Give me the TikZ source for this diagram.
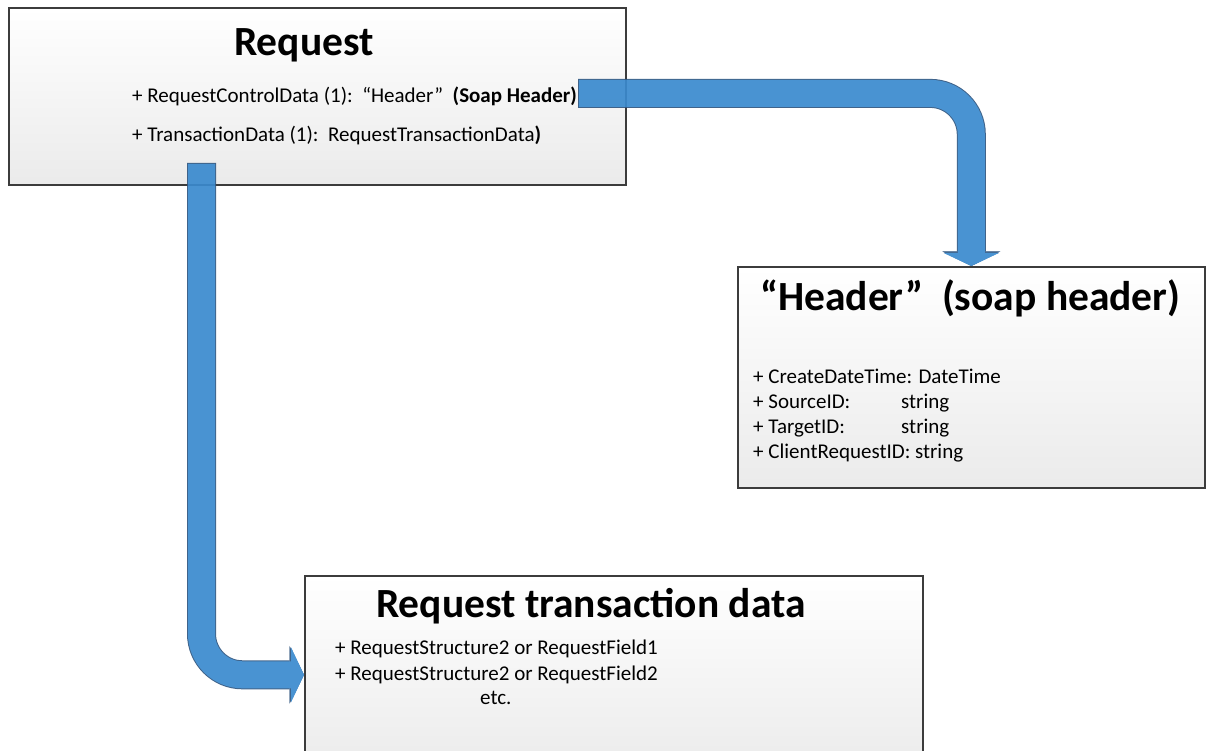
\documentclass[tikz,border=0pt]{standalone}
\usepackage{fontspec}
\setmainfont{Carlito}
\usetikzlibrary{arrows.meta,shadows}

\definecolor{arrowblue}{RGB}{58,138,206}
\definecolor{arrowedge}{RGB}{48,86,128}
\definecolor{boxedge}{RGB}{60,60,60}

\tikzset{
  box/.style={rectangle, draw=boxedge, line width=1.6pt, anchor=north west,
    top color=white, bottom color=black!8,
    drop shadow={shadow xshift=1.5pt, shadow yshift=-1.5pt, opacity=.35, fill=black!60}},
  title/.style={anchor=base west, inner sep=0pt, font=\bfseries\fontsize{41.5}{48}\selectfont},
  item/.style={anchor=base west, inner sep=0pt, font=\fontsize{21}{25}\selectfont},
  blockarrow/.style={draw=arrowblue, line width=27pt, rounded corners=41pt,
    -{Triangle[width=55pt, length=13pt, line width=.4pt]},
    preaction={draw=arrowedge, line width=29pt, shorten <=-1pt,
      -{Triangle[width=58pt, length=14.5pt, line width=.4pt]}}}
}

\begin{document}
\begin{tikzpicture}[x=1pt, y=-1pt]
  \useasboundingbox (0,0) rectangle (1210,751);
  \clip (0,0) rectangle (1210,751);

  % Boxes
  \node[box, minimum width=617pt, minimum height=177pt] (request) at (8,7) {};
  \node[box, minimum width=467pt, minimum height=221pt] (header) at (737,266) {};
  \node[box, minimum width=618pt, minimum height=198pt] (trans) at (304,575) {};

  % Request
  \node[title] (reqtitle) at (234,56) {Request};
  \node[item] (reqctl) at (132,103) {+ RequestControlData (1):\ \ “Header”\ \ \textbf{(Soap Header)}};
  \node[item] (reqtx) at (132,142) {+ TransactionData (1):\ \ RequestTransactionData\textbf{)}};

  % Header (soap header)
  \node[title] (hdrtitle) at (760,311) {“Header”\ \ (soap header)};
  \node[item] (hdrcreate) at (753,383) {+ CreateDateTime: DateTime};
  \node[item] (hdrsource) at (753,408) {\makebox[148pt][l]{+ SourceID:}string};
  \node[item] (hdrtarget) at (753,433) {\makebox[148pt][l]{+ TargetID:}string};
  \node[item] (hdrclient) at (753,458) {+ ClientRequestID: string};

  % Request transaction data
  \node[title] (trtitle) at (376,617) {Request transaction data};
  \node[item] (trfield1) at (335,654) {+ RequestStructure2 or RequestField1};
  \node[item] (trfield2) at (335,680) {+ RequestStructure2 or RequestField2};
  \node[item] (tretc) at (480,704) {etc.};

  % Arrows
  \coordinate (ctlout) at ([xshift=2pt, yshift=3.5pt]reqctl.east);
  \coordinate (txout) at (201.5,164);
  \begin{scope}[transparency group, opacity=.92]
    \draw[blockarrow] (ctlout) -| (header.north);
    \draw[blockarrow] (txout) |- (trans.west);
  \end{scope}
\end{tikzpicture}
\end{document}
